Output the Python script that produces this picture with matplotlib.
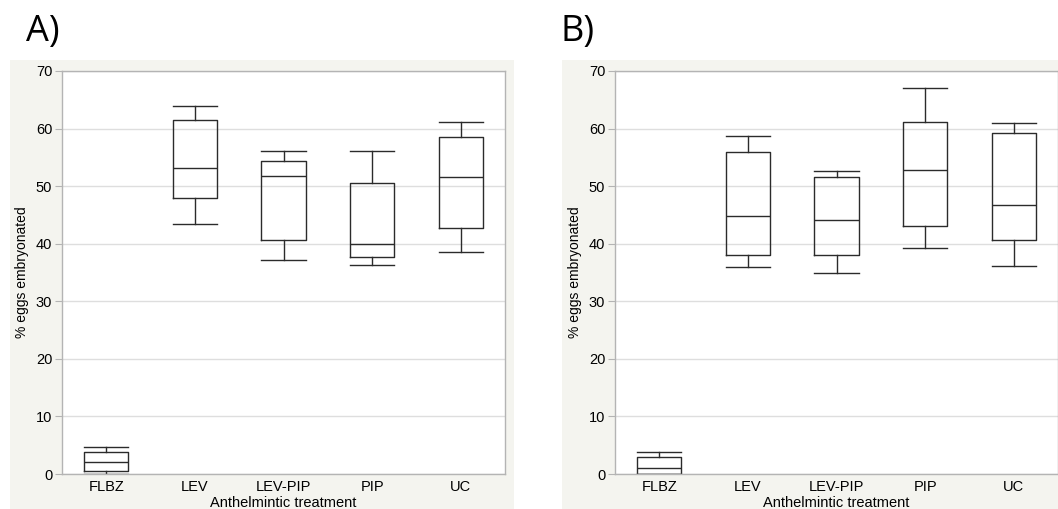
import matplotlib
matplotlib.use("Agg")
import matplotlib.pyplot as plt
from matplotlib.patches import Rectangle

treatments = ["FLBZ", "LEV", "LEV-PIP", "PIP", "UC"]

# panel A: whisker low, Q1, median, Q3, whisker high
a_low = [0.0, 43.5, 37.2, 36.3, 38.6]
a_q1 = [0.5, 48.0, 40.7, 37.7, 42.8]
a_med = [2.1, 53.2, 51.8, 40.0, 51.6]
a_q3 = [3.8, 61.5, 54.4, 50.6, 58.6]
a_high = [4.7, 63.9, 56.1, 56.1, 61.1]

# panel B
b_low = [0.0, 36.0, 35.0, 39.2, 36.2]
b_q1 = [0.0, 38.0, 38.1, 43.1, 40.7]
b_med = [1.0, 44.8, 44.1, 52.8, 46.7]
b_q3 = [2.9, 55.9, 51.6, 61.2, 59.2]
b_high = [3.8, 58.7, 52.7, 67.1, 60.9]

BG = "#f4f4ef"
GRID = "#dedede"
SPINE = "#b4b4b4"

plt.rcParams.update({"font.family": ["Liberation Sans", "DejaVu Sans"],
                     "font.size": 10})

fig = plt.figure(figsize=(10.58, 5.09), dpi=100)
W, H = 1058, 509

# grey panel backgrounds
for x0, w in [(10, 504), (562, 496)]:
    r = Rectangle((x0 / W, 0), w / W, 449 / H, transform=fig.transFigure,
                  facecolor=BG, edgecolor="none")
    r.set_zorder(-10)
    fig.add_artist(r)


def panel(left, low, q1, med, q3, high, letter, letter_x):
    ax = fig.add_axes([left / W, 35 / H, 443 / W, 403 / H])
    ax.set_facecolor("white")
    stats = [dict(whislo=lo, q1=a, med=m, q3=b, whishi=hi, label=t)
             for t, lo, a, m, b, hi in zip(treatments, low, q1, med, q3, high)]
    ln = dict(color="#2b2b2b", linewidth=1.0)
    ax.bxp(stats, positions=[0.5, 1.5, 2.5, 3.5, 4.5], widths=0.5, showfliers=False,
           boxprops=ln, whiskerprops=ln, capprops=ln, medianprops=ln, capwidths=0.5)
    ax.set_xlim(0, 5)
    ax.set_ylim(0, 70)
    ax.set_yticks(range(0, 71, 10))
    ax.grid(axis="y", color=GRID, lw=1.0)
    ax.set_axisbelow(True)
    for s in ax.spines.values():
        s.set_color(SPINE)
        s.set_linewidth(1.0)
    ax.tick_params(axis="y", length=5, color=SPINE, labelsize=10.5, pad=2)
    ax.tick_params(axis="x", length=0, labelsize=10.5, pad=4)
    ax.set_xlabel("Anthelmintic treatment", fontsize=10.5, labelpad=2)
    ax.set_ylabel("% eggs embryonated", fontsize=10, labelpad=5)
    fig.text(letter_x / W, 1 - 32 / H, letter, fontsize=26, family="Open Sans",
             va="center", ha="left")
    return ax


panel(62, a_low, a_q1, a_med, a_q3, a_high, "A)", 26)
panel(615, b_low, b_q1, b_med, b_q3, b_high, "B)", 560)

fig.savefig("out.png", dpi=100)
